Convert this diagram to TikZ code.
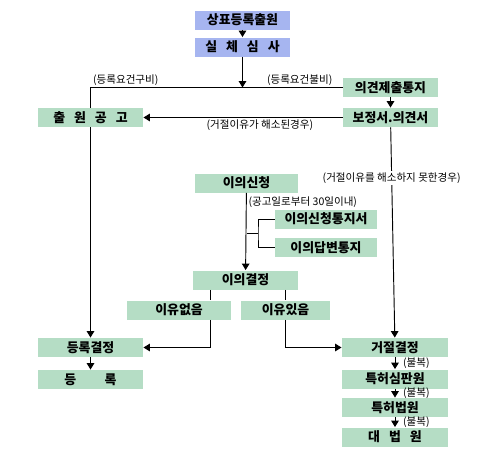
\documentclass[tikz,border=0pt]{standalone}
\usepackage{fontspec}
\setmainfont{Noto Sans CJK KR}
\usetikzlibrary{arrows.meta}
\definecolor{boxgreen}{RGB}{181,221,197}
\definecolor{boxblue}{RGB}{166,181,240}

\begin{document}
\begin{tikzpicture}[x=0.03cm, y=-0.03cm, line width=0.8pt,
  >={Triangle[width=6.5pt,length=5.5pt]},
  box/.style={fill=boxgreen, minimum height=0.57cm, inner sep=0pt,
    font=\bfseries\fontsize{11}{12}\selectfont},
  bluebox/.style={box, fill=boxblue},
  note/.style={font=\fontsize{9}{10}\selectfont, inner sep=1.5pt}]

  \useasboundingbox (0,0) rectangle (500,464);

  \node[bluebox, minimum width=2.85cm] (apply) at (242.5,20) {상표등록출원};
  \node[bluebox, minimum width=2.85cm] (exam) at (242.5,47) {실\hspace{0.7em}체\hspace{0.7em}심\hspace{0.7em}사};
  \node[box, minimum width=2.85cm] (notice) at (390.5,87.5) {의견제출통지};
  \node[box, minimum width=2.85cm] (reply) at (390.5,117.5) {보정서.의견서};
  \node[box, minimum width=3.15cm] (pub) at (90.5,117.5) {출\hspace{0.7em}원\hspace{0.7em}공\hspace{0.7em}고};
  \node[box, minimum width=3.09cm] (opp) at (246.5,183) {이의신청};
  \node[box, minimum width=3.06cm] (oppnote) at (326,219) {이의신청통지서};
  \node[box, minimum width=3.06cm] (oppans) at (326,247.5) {이의답변통지};
  \node[box, minimum width=3.15cm] (oppdec) at (245.5,280) {이의결정};
  \node[box, minimum width=3.12cm] (nogr) at (179,310) {이유없음};
  \node[box, minimum width=2.67cm] (gr) at (285.5,310) {이유있음};
  \node[box, minimum width=3.15cm] (regdec) at (90.5,347.5) {등록결정};
  \node[box, minimum width=3.15cm] (reg) at (90.5,379.5) {등\hspace{2.2em}록};
  \node[box, minimum width=3.18cm] (rej) at (395,347.5) {거절결정};
  \node[box, minimum width=3.18cm] (trial) at (395,379) {특허심판원};
  \node[box, minimum width=3.18cm] (court) at (395,407.5) {특허법원};
  \node[box, minimum width=3.18cm] (supreme) at (395,437) {대\hspace{0.7em}법\hspace{0.7em}원};

  \coordinate (ln) at (210,0);
  \coordinate (br) at (258,233.5);

  \draw[->] (apply) -- (exam);
  \draw (notice.west) -| node[note, above, pos=0.085] {(등록요건불비)}
                         node[note, above, pos=0.43] {(등록요건구비)} (pub.north);
  \draw[->] (exam.south) -- (exam.south |- notice.west);
  \draw[->] (notice) -- (reply);
  \draw[->] (reply) -- node[note, below, pos=0.415] {(거절이유가 해소된경우)} (pub);
  \draw[->] (pub) -- (regdec);
  \draw[->] (reply) -- node[note, fill=white, pos=0.24] {(거절이유를 해소하지 못한경우)} (rej);

  \draw[->] (opp) -- node[note, right, pos=0.12] {(공고일로부터 30일이내)} (oppdec);
  \draw (opp.south |- br) -- (br);
  \draw (oppnote.west) -| (br) |- (oppans.west);

  \draw (oppdec.south -| ln) -- (nogr.north -| ln);
  \draw (oppdec.south -| gr.north) -- (gr.north);
  \draw[->] (nogr.south -| ln) |- (regdec.east);
  \draw[->] (gr.south) |- (rej.west);

  \draw[->] (regdec) -- (reg);
  \draw[->] (rej) -- node[note, right=5pt] {(불복)} (trial);
  \draw[->] (trial) -- node[note, right=5pt] {(불복)} (court);
  \draw[->] (court) -- node[note, right=5pt] {(불복)} (supreme);

\end{tikzpicture}
\end{document}
